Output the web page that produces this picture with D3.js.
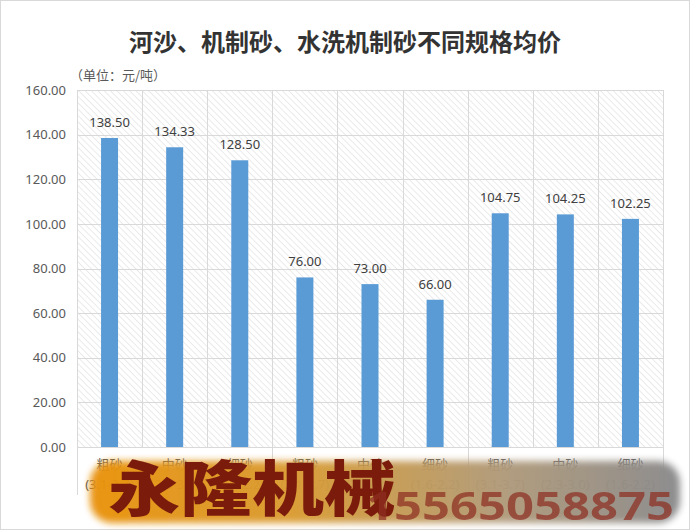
<!DOCTYPE html>
<html><head><meta charset="utf-8">
<script src="https://cdn.jsdelivr.net/npm/d3@7"></script>
<style>
html,body{margin:0;padding:0;background:#fff;}
svg{display:block;font-family:"Noto Sans CJK SC","Noto Sans",sans-serif;}
</style></head>
<body>
<svg id="chart" width="690" height="530"></svg>
<script>
const categories = ["粗砂","中砂","细砂","粗砂","中砂","细砂","粗砂","中砂","细砂"];
const subLabels = ["(3.1-3.7)","(2.3-3.0)","(1.6-2.2)","(3.1-3.7)","(2.3-3.0)","(1.6-2.2)","(3.1-3.7)","(2.3-3.0)","(1.6-2.2)"];
const values = [138.50,134.33,128.50,76.00,73.00,66.00,104.75,104.25,102.25];
const yTicks = [0,20,40,60,80,100,120,140,160];
const title = "河沙、机制砂、水洗机制砂不同规格均价";
const unitLabel = "（单位：元/吨）";
const brand = "永隆机械";
const phone = "15565058875";

const W = 690, H = 530;
const m = {left:77, right:27, top:90, bottom:83};
const svg = d3.select("#chart");
const defs = svg.append("defs");

// hatch pattern (lines running top-left to bottom-right)
const pat = defs.append("pattern").attr("id","hatch").attr("patternUnits","userSpaceOnUse")
  .attr("width",4.5).attr("height",4.5).attr("patternTransform","rotate(-45)");
pat.append("line").attr("x1",0).attr("y1",0).attr("x2",0).attr("y2",4.5)
  .attr("stroke","#d6d6d6").attr("stroke-width",1);

// frame
svg.append("rect").attr("x",0.5).attr("y",0.5).attr("width",W-1).attr("height",H-1)
  .attr("fill","#fff").attr("stroke","#d9d9d9");

const x = d3.scaleBand().domain(d3.range(categories.length)).range([m.left, W-m.right]).paddingInner(0).paddingOuter(0);
const y = d3.scaleLinear().domain([0,160]).range([H-m.bottom, m.top]);

// plot background hatch
svg.append("rect").attr("x",m.left).attr("y",m.top).attr("width",W-m.left-m.right).attr("height",H-m.top-m.bottom)
  .attr("fill","url(#hatch)");

// horizontal gridlines
svg.append("g").selectAll("line").data(yTicks).join("line")
  .attr("x1",m.left).attr("x2",W-m.right).attr("y1",d=>Math.round(y(d))+0.5).attr("y2",d=>Math.round(y(d))+0.5)
  .attr("stroke","#d9d9d9");

// vertical gridlines
const vlines = d3.range(categories.length+1);
svg.append("g").selectAll("line").data(vlines).join("line")
  .attr("x1",d=>Math.round(d<categories.length?x(d):x(d-1)+x.bandwidth())+0.5)
  .attr("x2",d=>Math.round(d<categories.length?x(d):x(d-1)+x.bandwidth())+0.5)
  .attr("y1",m.top).attr("y2",d=> d%3===0 ? H-m.bottom+48 : H-m.bottom)
  .attr("stroke","#d9d9d9");

// y axis labels
const yAxis = d3.axisLeft(y).tickValues(yTicks).tickFormat(d3.format(".2f")).tickSize(0).tickPadding(11);
const ga = svg.append("g").attr("transform",`translate(${m.left},0)`).call(yAxis);
ga.select(".domain").remove();
ga.selectAll("text").attr("font-size",13).attr("fill","#595959").attr("font-family","'Noto Sans','Noto Sans CJK SC',sans-serif");

// bars
const bw = 17;
svg.append("g").selectAll("rect").data(values).join("rect")
  .attr("x",(d,i)=>x(i)+x.bandwidth()/2-bw/2).attr("width",bw)
  .attr("y",d=>y(d)).attr("height",d=>y(0)-y(d))
  .attr("fill","#5b9bd5");

// value labels
svg.append("g").selectAll("text").data(values).join("text")
  .attr("x",(d,i)=>x(i)+x.bandwidth()/2).attr("y",d=>y(d)-11)
  .attr("text-anchor","middle").attr("font-size",13).attr("fill","#404040")
  .attr("font-family","'Noto Sans','Noto Sans CJK SC',sans-serif")
  .text(d=>d.toFixed(2));

// x labels
const xl = svg.append("g");
xl.selectAll("text.c").data(categories).join("text").attr("class","c")
  .attr("x",(d,i)=>x(i)+x.bandwidth()/2).attr("y",H-m.bottom+22)
  .attr("text-anchor","middle").attr("font-size",13).attr("fill","#595959").text(d=>d);
xl.selectAll("text.s").data(subLabels).join("text").attr("class","s")
  .attr("x",(d,i)=>x(i)+x.bandwidth()/2).attr("y",H-m.bottom+42)
  .attr("text-anchor","middle").attr("font-size",13).attr("fill","#595959")
  .attr("font-family","'Noto Sans',sans-serif").text(d=>d);

// title
svg.append("text").attr("x",345).attr("y",51).attr("text-anchor","middle")
  .attr("font-size",24).attr("font-weight","bold").attr("fill","#333").text(title);
svg.append("text").attr("x",70).attr("y",80).attr("font-size",13).attr("fill","#595959").text(unitLabel);

// watermark
const grad = defs.append("linearGradient").attr("id","wg").attr("x1","0").attr("x2","1").attr("y1","0").attr("y2","0");
grad.append("stop").attr("offset","0").attr("stop-color","#e9920a");
grad.append("stop").attr("offset","0.35").attr("stop-color","#d99b33");
grad.append("stop").attr("offset","0.7").attr("stop-color","#b09a7a");
grad.append("stop").attr("offset","1").attr("stop-color","#8a8a8c");
const blur = defs.append("filter").attr("id","blur").attr("x","-5%").attr("y","-20%").attr("width","110%").attr("height","140%");
blur.append("feGaussianBlur").attr("stdDeviation",3.5);
svg.append("rect").attr("x",90).attr("y",461).attr("width",590).attr("height",62).attr("rx",22)
  .attr("fill","url(#wg)").attr("filter","url(#blur)").attr("opacity",0.97);
svg.append("text").attr("x",108).attr("y",511).attr("font-size",60).attr("font-weight",900)
  .attr("textLength",288).attr("lengthAdjust","spacingAndGlyphs")
  .attr("fill","#7b1b0c").text(brand);
svg.append("text").attr("x",366).attr("y",520).attr("font-size",39).attr("font-weight","bold")
  .attr("font-family","'Noto Sans','DejaVu Sans',sans-serif")
  .attr("textLength",308).attr("lengthAdjust","spacingAndGlyphs")
  .attr("fill","#8e2f22").attr("opacity",0.72).text(phone);
</script>
</body></html>
